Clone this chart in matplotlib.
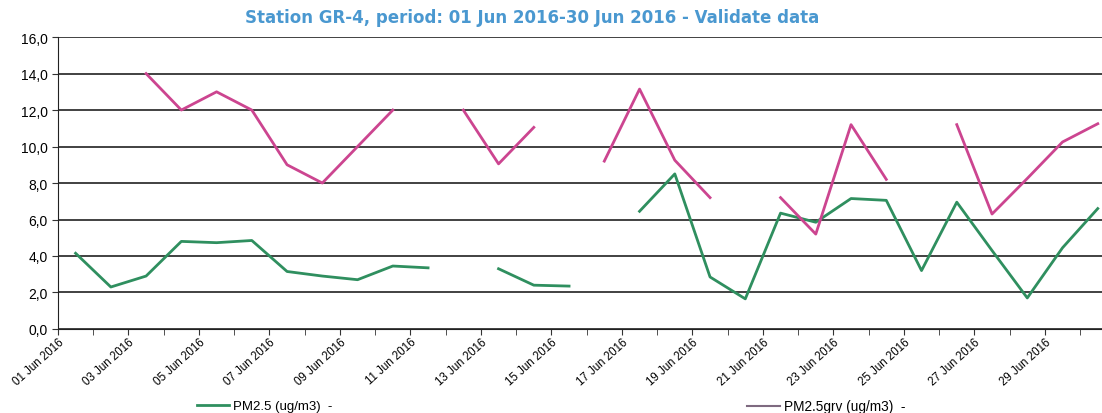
import numpy as np
import matplotlib
matplotlib.use('Agg')
import matplotlib.pyplot as plt
from matplotlib.lines import Line2D
from matplotlib.ticker import FuncFormatter

nan = np.nan

# daily values, 01..30 Jun 2016 (nan = no data)
days = list(range(1, 31))
pm25 = [4.15, 2.3, 2.9, 4.8, 4.73, 4.85, 3.15, 2.9, 2.7, 3.45,
        3.35, nan, 3.3, 2.4, 2.35, nan, 6.45, 8.5, 2.85, 1.65,
        6.35, 5.85, 7.15, 7.05, 3.2, 6.95, 4.3, 1.7, 4.45, 6.6]
pm25grv = [nan, nan, 14.0, 12.0, 13.0, 12.0, 9.0, 8.0, 10.0, 12.0,
           nan, 12.0, 9.05, 11.05, nan, 9.2, 13.15, 9.25, 7.2, nan,
           7.2, 5.2, 11.2, 8.2, nan, 11.2, 6.3, 8.25, 10.25, 11.25]
tick_labels = ['%02d Jun 2016' % d for d in days]

green = '#2f8f5f'
pink = '#cc4590'

fig = plt.figure(figsize=(11.02, 4.14), dpi=100)
ax = fig.add_axes([0.0526, 0.203, 0.9474, 0.705])

x = np.arange(len(days)) + 0.5
ax.plot(x, pm25, color=green, lw=2.0, zorder=3)
ax.plot(x, pm25grv, color=pink, lw=2.0, zorder=3)

ax.set_ylim(0, 16)
ax.set_yticks(np.arange(0, 17, 2))
ax.yaxis.set_major_formatter(FuncFormatter(lambda v, p: ('%.1f' % v).replace('.', ',')))
ax.yaxis.grid(True, color='#333333', lw=1.3)
ax.set_axisbelow(True)

ax.set_xlim(0, 29.62)
ax.set_xticks(np.arange(0, 30, 2))
ax.set_xticklabels(tick_labels[::2], rotation=42, ha='right', va='top',
                   rotation_mode='anchor', fontsize=8.3, family='Liberation Sans')
ax.set_xticks(np.arange(0, 30), minor=True)
ax.tick_params(axis='x', which='both', length=4, direction='out', color='#333333', pad=1)
ax.tick_params(axis='y', length=4, direction='out', labelsize=10, color='#333333')
for lab in ax.get_yticklabels():
    lab.set_family('Liberation Sans')

for s in ['top', 'right']:
    ax.spines[s].set_visible(False)
ax.spines['left'].set_color('#222222')
ax.spines['bottom'].set_color('#222222')

fig.suptitle('Station GR-4, period: 01 Jun 2016-30 Jun 2016 - Validate data',
             x=0.483, y=0.978, fontsize=12, fontweight='bold', color='#4a98d0',
             family='DejaVu Sans')

h1 = Line2D([], [], color=green, lw=2)
h2 = Line2D([], [], color='#7e6a80', lw=1.5)
fig.legend([h1], ['PM2.5 (ug/m3)  -'], loc='center left', bbox_to_anchor=(0.173, 0.016),
           frameon=False, prop={'family': 'Liberation Sans', 'size': 9.5},
           handlelength=2.4, handletextpad=0.3, borderpad=0)
fig.legend([h2], ['PM2.5grv (ug/m3)  -'], loc='center left', bbox_to_anchor=(0.672, 0.016),
           frameon=False, prop={'family': 'Liberation Sans', 'size': 9.8},
           handlelength=2.4, handletextpad=0.3, borderpad=0)

fig.savefig('out.png', dpi=100)
